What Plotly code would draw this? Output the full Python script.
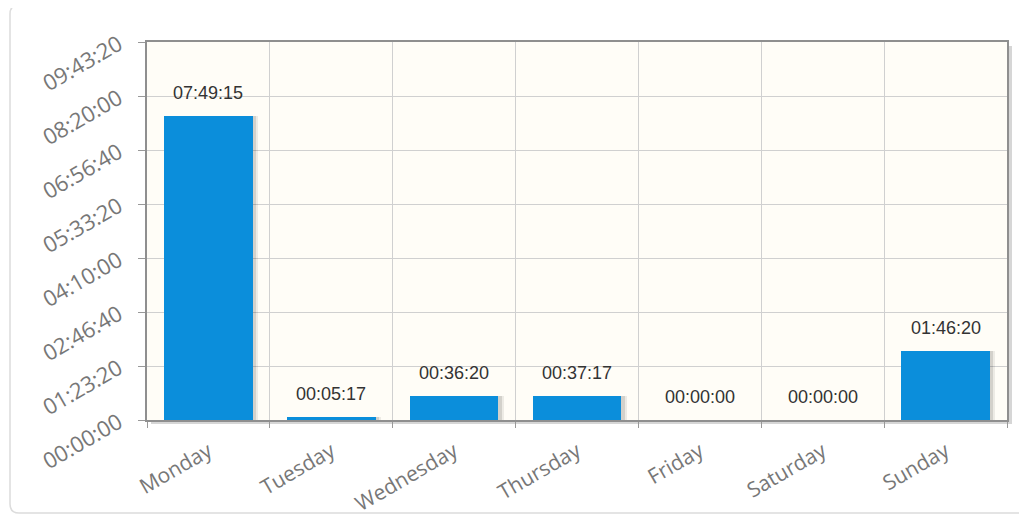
"""
Weekly duration bar chart (jqPlot-style look) rebuilt with Plotly.
"""

import plotly.graph_objects as go

# ---- data -------------------------------------------------------------
days = ["Monday", "Tuesday", "Wednesday", "Thursday", "Friday", "Saturday", "Sunday"]
durations = ["07:49:15", "00:05:17", "00:36:20", "00:37:17", "00:00:00", "00:00:00", "01:46:20"]
ytick_values = [0, 5000, 10000, 15000, 20000, 25000, 30000, 35000]
ytick_labels = ["00:00:00", "01:23:20", "02:46:40", "04:10:00",
                "05:33:20", "06:56:40", "08:20:00", "09:43:20"]


def to_seconds(hms: str) -> int:
    h, m, s = (int(p) for p in hms.split(":"))
    return h * 3600 + m * 60 + s


seconds = [to_seconds(d) for d in durations]

# ---- geometry helpers (screen pixels -> paper coords) -------------------
# the page body adds an 8px offset, so the figure starts at (8, 8)
OFF = 8
W, H = 1027 - OFF, 519 - OFF
ML, MR, MT, MB = 147 - OFF, 20, 42 - OFF, 99
PW, PH = W - ML - MR, H - MT - MB


def px(x):
    return (x - OFF - ML) / PW


def py(y):
    return (H - MB - (y - OFF)) / PH


def rounded_rect(x0, y0, x1, y1, r):
    return (
        f"M {px(x0 + r)} {py(y0)} L {px(x1 - r)} {py(y0)} "
        f"Q {px(x1)} {py(y0)} {px(x1)} {py(y0 + r)} "
        f"L {px(x1)} {py(y1 - r)} Q {px(x1)} {py(y1)} {px(x1 - r)} {py(y1)} "
        f"L {px(x0 + r)} {py(y1)} Q {px(x0)} {py(y1)} {px(x0)} {py(y1 - r)} "
        f"L {px(x0)} {py(y0 + r)} Q {px(x0)} {py(y0)} {px(x0 + r)} {py(y0)} Z"
    )


BAR_W = 0.72
BAR_COLOR = "#0b8edb"
X_TICK_FONT = dict(family="Open Sans, sans-serif", size=21, color="#777")
Y_TICK_FONT = dict(family="Open Sans, sans-serif", size=22, color="#777")

fig = go.Figure()

# soft bar shadows (drawn first, behind the bars)
for shift, alpha in [(0.045, 0.07), (0.028, 0.11)]:
    fig.add_trace(go.Bar(
        x=days, y=seconds,
        width=BAR_W, offset=-BAR_W / 2 + shift,
        marker=dict(color=f"rgba(0,0,0,{alpha})", line=dict(width=0)),
        hoverinfo="skip", showlegend=False,
    ))

fig.add_trace(go.Bar(
    x=days, y=seconds,
    width=BAR_W, offset=-BAR_W / 2,
    marker=dict(color=BAR_COLOR, line=dict(width=0)),
    customdata=durations,
    hovertemplate="%{x}: %{customdata}<extra></extra>",
    showlegend=False,
))

# value labels above each bar
for day, sec, lbl in zip(days, seconds, durations):
    fig.add_annotation(
        x=day, y=sec, text=lbl, showarrow=False,
        yanchor="bottom", yshift=11,
        font=dict(family="Arial, Liberation Sans, sans-serif", size=18, color="#333"),
    )

shapes = [
    # card border
    dict(type="path", xref="paper", yref="paper", layer="below",
         path=rounded_rect(10, 5, 1045, 513, 9),
         line=dict(color="#dcdcdc", width=1.5)),
    # plot frame shadow, right and bottom strips outside the plot area
    dict(type="rect", xref="paper", yref="paper", layer="below",
         x0=px(1008), x1=px(1012), y0=py(424), y1=py(46),
         line=dict(width=0), fillcolor="rgba(0,0,0,0.16)"),
    dict(type="rect", xref="paper", yref="paper", layer="below",
         x0=px(151), x1=px(1008), y0=py(424), y1=py(421),
         line=dict(width=0), fillcolor="rgba(0,0,0,0.16)"),
]

fig.update_layout(
    width=W, height=H,
    margin=dict(l=ML, r=MR, t=MT, b=MB),
    barmode="overlay",
    paper_bgcolor="white",
    plot_bgcolor="#fffdf7",
    shapes=shapes,
    bargap=0,
)

fig.update_xaxes(
    type="category",
    range=[-0.5, 6.5],
    automargin=False,
    tickson="boundaries",
    tickangle=-30,
    ticks="outside", ticklen=6, tickcolor="#999",
    ticklabelstandoff=9,
    showgrid=True, gridcolor="#d0d0d0", gridwidth=1,
    showline=True, linecolor="#8f8f8f", linewidth=2, mirror=True,
    tickfont=X_TICK_FONT,
)

fig.update_yaxes(
    range=[0, 35000],
    automargin=False,
    tickvals=ytick_values, ticktext=ytick_labels,
    tickangle=-30,
    ticks="outside", ticklen=7, tickcolor="#999",
    ticklabelstandoff=15,
    showgrid=True, gridcolor="#d0d0d0", gridwidth=1,
    zeroline=False,
    showline=True, linecolor="#8f8f8f", linewidth=2, mirror=True,
    tickfont=Y_TICK_FONT,
)

fig.write_html("out.html")
